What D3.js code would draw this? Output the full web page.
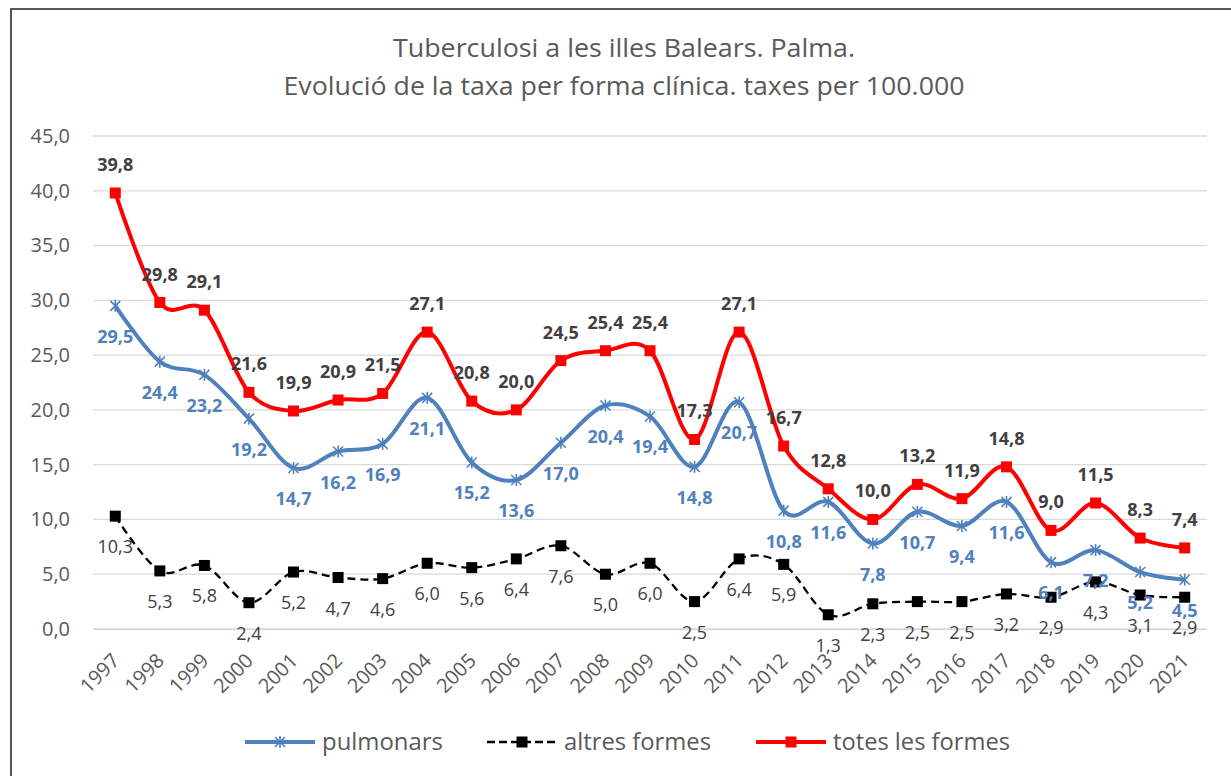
<!DOCTYPE html>
<html>
<head>
<meta charset="utf-8">
<script src="https://cdn.jsdelivr.net/npm/d3@7"></script>
<style>
  body { margin: 0; background: #fff; }
  svg { display: block; font-family: "Open Sans", sans-serif; }
</style>
</head>
<body>
<div id="chart"></div>
<script>
const years = ['1997','1998','1999','2000','2001','2002','2003','2004','2005','2006','2007','2008','2009',
  '2010','2011','2012','2013','2014','2015','2016','2017','2018','2019','2020','2021'];
const pulmonars = [29.5,24.4,23.2,19.2,14.7,16.2,16.9,21.1,15.2,13.6,17.0,20.4,19.4,14.8,20.7,10.8,11.6,7.8,10.7,9.4,11.6,6.1,7.2,5.2,4.5];
const altres = [10.3,5.3,5.8,2.4,5.2,4.7,4.6,6.0,5.6,6.4,7.6,5.0,6.0,2.5,6.4,5.9,1.3,2.3,2.5,2.5,3.2,2.9,4.3,3.1,2.9];
const totes = [39.8,29.8,29.1,21.6,19.9,20.9,21.5,27.1,20.8,20.0,24.5,25.4,25.4,17.3,27.1,16.7,12.8,10.0,13.2,11.9,14.8,9.0,11.5,8.3,7.4];
const yTicks = [0,5,10,15,20,25,30,35,40,45];
const titleLines = ['Tuberculosi a les illes Balears. Palma.', 'Evolució de la taxa per forma clínica. taxes per 100.000'];

const W = 1231, H = 776;
const fmt = v => v.toFixed(1).replace('.', ',');

const svg = d3.select('#chart').append('svg')
  .attr('width', W)
  .attr('height', H);

// frame
svg.append('rect')
  .attr('x', 11).attr('y', 9)
  .attr('width', W + 10).attr('height', H + 10)
  .attr('fill', '#fff')
  .attr('stroke', '#222')
  .attr('stroke-width', 1.5);

const titleWidths = [462, 681];
svg.append('g')
  .selectAll('text')
  .data(titleLines)
  .join('text')
  .attr('x', 624)
  .attr('y', (d, i) => 57 + i * 38)
  .attr('text-anchor', 'middle')
  .attr('fill', '#595959')
  .attr('font-size', 26)
  .attr('textLength', (d, i) => titleWidths[i])
  .attr('lengthAdjust', 'spacingAndGlyphs')
  .text(d => d);

const xScale = d3.scalePoint()
  .domain(years)
  .range([93, 1207])
  .padding(0.5);

const yScale = d3.scaleLinear()
  .domain([0, 45])
  .range([629, 136]);

// gridlines
svg.append('g')
  .selectAll('line')
  .data(yTicks)
  .join('line')
  .attr('x1', 93).attr('x2', 1207)
  .attr('y1', d => yScale(d)).attr('y2', d => yScale(d))
  .attr('stroke', '#d9d9d9')
  .attr('stroke-width', 1.3);

const yAxis = d3.axisLeft(yScale)
  .tickValues(yTicks)
  .tickFormat(fmt)
  .tickSize(0)
  .tickPadding(23);

svg.append('g')
  .attr('transform', 'translate(93,0)')
  .call(yAxis)
  .call(g => g.select('.domain').remove())
  .selectAll('text')
  .attr('fill', '#595959')
  .attr('font-size', 20)
  .attr('font-family', '"Open Sans", sans-serif');

const xAxis = d3.axisBottom(xScale).tickSize(0).tickPadding(0);

svg.append('g')
  .attr('transform', 'translate(0,629)')
  .call(xAxis)
  .call(g => g.select('.domain').attr('stroke', '#d9d9d9').attr('stroke-width', 1.3))
  .selectAll('text')
  .attr('fill', '#595959')
  .attr('font-size', 20)
  .attr('font-family', '"Open Sans", sans-serif')
  .attr('text-anchor', 'end')
  .attr('dy', 0)
  .attr('transform', 'translate(5,33) rotate(-45)');

const line = d3.line()
  .x((d, i) => xScale(years[i]))
  .y(d => yScale(d))
  .curve(d3.curveCardinal.tension(0));

// altres formes
svg.append('path')
  .attr('d', line(altres))
  .attr('fill', 'none')
  .attr('stroke', '#000')
  .attr('stroke-width', 2.3)
  .attr('stroke-dasharray', '8,5');

svg.append('g')
  .selectAll('rect')
  .data(altres)
  .join('rect')
  .attr('x', (d, i) => xScale(years[i]) - 5.5)
  .attr('y', d => yScale(d) - 5.5)
  .attr('width', 11).attr('height', 11)
  .attr('fill', '#000');

// pulmonars
svg.append('path')
  .attr('d', line(pulmonars))
  .attr('fill', 'none')
  .attr('stroke', '#4f81bd')
  .attr('stroke-width', 4);

const star = svg.append('g')
  .selectAll('g')
  .data(pulmonars)
  .join('g')
  .attr('transform', (d, i) => `translate(${xScale(years[i])},${yScale(d)})`)
  .attr('stroke', '#4f81bd')
  .attr('stroke-width', 1.6);
star.append('line').attr('x1', -5).attr('y1', -5).attr('x2', 5).attr('y2', 5);
star.append('line').attr('x1', -5).attr('y1', 5).attr('x2', 5).attr('y2', -5);
star.append('line').attr('x1', 0).attr('y1', -6).attr('x2', 0).attr('y2', 6);

// totes les formes
svg.append('path')
  .attr('d', line(totes))
  .attr('fill', 'none')
  .attr('stroke', '#ff0000')
  .attr('stroke-width', 4);

svg.append('g')
  .selectAll('rect')
  .data(totes)
  .join('rect')
  .attr('x', (d, i) => xScale(years[i]) - 5.5)
  .attr('y', d => yScale(d) - 5.5)
  .attr('width', 11).attr('height', 11)
  .attr('fill', '#ff0000');

// labels
svg.append('g')
  .selectAll('text')
  .data(altres)
  .join('text')
  .attr('x', (d, i) => xScale(years[i]))
  .attr('y', d => yScale(d) + 37)
  .attr('text-anchor', 'middle')
  .attr('font-size', 18)
  .attr('fill', '#404040')
  .text(fmt);

svg.append('g')
  .selectAll('text')
  .data(pulmonars)
  .join('text')
  .attr('x', (d, i) => xScale(years[i]))
  .attr('y', d => yScale(d) + 37)
  .attr('text-anchor', 'middle')
  .attr('font-size', 18)
  .attr('font-weight', 'bold')
  .attr('fill', '#4f81bd')
  .text(fmt);

svg.append('g')
  .selectAll('text')
  .data(totes)
  .join('text')
  .attr('x', (d, i) => xScale(years[i]))
  .attr('y', d => yScale(d) - 22)
  .attr('text-anchor', 'middle')
  .attr('font-size', 18)
  .attr('font-weight', 'bold')
  .attr('fill', '#404040')
  .text(fmt);

// legend
const legendItems = [
  { name: 'pulmonars', x: 245, textW: 121, color: '#4f81bd', dash: null, marker: 'star' },
  { name: 'altres formes', x: 487, textW: 147, color: '#000', dash: '8,4', marker: 'sq' },
  { name: 'totes les formes', x: 756, textW: 177, color: '#ff0000', dash: null, marker: 'sq' }
];

const legend = svg.append('g')
  .selectAll('g')
  .data(legendItems)
  .join('g')
  .attr('transform', d => `translate(${d.x},742)`);

legend.append('line')
  .attr('x1', 0).attr('x2', 70)
  .attr('stroke', d => d.color)
  .attr('stroke-width', d => d.dash ? 2.3 : 4)
  .attr('stroke-dasharray', d => d.dash);

legend.filter(d => d.marker === 'sq')
  .append('rect')
  .attr('x', 29.5).attr('y', -5.5)
  .attr('width', 11).attr('height', 11)
  .attr('fill', d => d.color);

const legendStar = legend.filter(d => d.marker === 'star')
  .append('g')
  .attr('stroke', '#4f81bd')
  .attr('stroke-width', 1.6);
legendStar.append('line').attr('x1', 30).attr('y1', -5).attr('x2', 40).attr('y2', 5);
legendStar.append('line').attr('x1', 30).attr('y1', 5).attr('x2', 40).attr('y2', -5);
legendStar.append('line').attr('x1', 35).attr('y1', -6).attr('x2', 35).attr('y2', 6);

legend.append('text')
  .attr('x', 77)
  .attr('y', 8)
  .attr('font-size', 24)
  .attr('fill', '#595959')
  .attr('textLength', d => d.textW)
  .attr('lengthAdjust', 'spacingAndGlyphs')
  .text(d => d.name);
</script>
</body>
</html>
